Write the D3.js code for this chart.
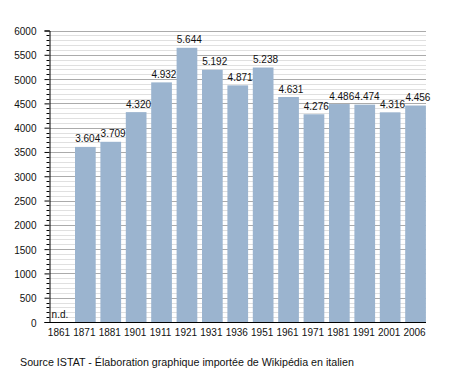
<!DOCTYPE html>
<html>
<head>
<meta charset="utf-8">
<script src="https://cdn.jsdelivr.net/npm/d3@7"></script>
<style>
html,body{margin:0;padding:0;background:#fff;}
svg{display:block;}
text{font-family:"Liberation Sans",Arial,sans-serif;fill:#111;}
</style>
</head>
<body>
<svg id="chart" width="455" height="373"></svg>
<script>
const years = ["1861","1871","1881","1901","1911","1921","1931","1936","1951","1961","1971","1981","1991","2001","2006"];
const population = [null,3604,3709,4320,4932,5644,5192,4871,5238,4631,4276,4486,4474,4316,4456];
const valueLabels = ["n.d.","3.604","3.709","4.320","4.932","5.644","5.192","4.871","5.238","4.631","4.276","4.486","4.474","4.316","4.456"];
const yTicks = [0,500,1000,1500,2000,2500,3000,3500,4000,4500,5000,5500,6000];
const sourceText = "Source ISTAT - Élaboration graphique importée de Wikipédia en italien";

(function () {
const svg = d3.select("#chart");
const pLeft = 50, pRight = 426, pTop = 30.5, pBottom = 322;

const x = d3.scaleBand().domain(years).range([49.6, 430.6]).paddingInner(0).paddingOuter(0);
const y = d3.scaleLinear().domain([0, 6000]).range([pBottom, pTop]);
const barW = x.bandwidth() * 0.815;

// minor gridlines
const minor = d3.range(100, 6001, 100).filter(v => v % 500 !== 0);
svg.append("g").selectAll("line").data(minor).join("line")
  .attr("x1", pLeft).attr("x2", pRight)
  .attr("y1", d => Math.round(y(d)) + 0.5).attr("y2", d => Math.round(y(d)) + 0.5)
  .attr("stroke", "#e0e0e0").attr("stroke-width", 1);
// major gridlines
svg.append("g").selectAll("line").data(yTicks.filter(d => d > 0)).join("line")
  .attr("x1", pLeft).attr("x2", pRight)
  .attr("y1", d => Math.round(y(d)) + 0.5).attr("y2", d => Math.round(y(d)) + 0.5)
  .attr("stroke", "#ababab").attr("stroke-width", 1);

// bars
const data = years.map((yr, i) => ({yr, v: population[i], lab: valueLabels[i]}));
svg.append("g").selectAll("rect").data(data.filter(d => d.v != null)).join("rect")
  .attr("x", d => x(d.yr)).attr("width", barW)
  .attr("y", d => y(d.v)).attr("height", d => y(0) - y(d.v))
  .attr("fill", "#9bb4cf");

// value labels
svg.append("g").selectAll("text").data(data).join("text")
  .attr("x", d => d.v == null ? x(d.yr) + 2 : x(d.yr) + x.bandwidth() / 2)
  .attr("y", d => d.v == null ? 318 : y(d.v) - 4.5)
  .attr("text-anchor", d => d.v == null ? "start" : "middle")
  .attr("font-size", 10)
  .text(d => d.lab);

// y axis
const yAxis = d3.axisLeft(y).tickValues(yTicks).tickSize(5).tickPadding(3).tickFormat(d3.format("d"));
const gy = svg.append("g").attr("transform", `translate(${pLeft - 0.5},0)`).call(yAxis);
gy.select(".domain").attr("stroke", "#000");
gy.selectAll(".tick line").attr("stroke", "#000");
gy.selectAll(".tick text").attr("font-size", 10).attr("font-family", "Liberation Sans, Arial, sans-serif").attr("fill", "#111").attr("dx", "-5").attr("dy", "0.4em");
// minor ticks
gy.append("g").selectAll("line").data(minor).join("line")
  .attr("x1", -3).attr("x2", 0)
  .attr("y1", d => Math.round(y(d)) + 0.5).attr("y2", d => Math.round(y(d)) + 0.5)
  .attr("stroke", "#000");

// x axis
const xAxis = d3.axisBottom(x).tickSize(0).tickPadding(6);
const gx = svg.append("g").attr("transform", `translate(0,${pBottom + 0.5})`).call(xAxis);
gx.select(".domain").remove();
gx.selectAll(".tick").attr("transform", d => `translate(${x(d) + barW / 2 - 1},0)`);
gx.selectAll(".tick text").attr("font-size", 10).attr("font-family", "Liberation Sans, Arial, sans-serif").attr("fill", "#111");
svg.append("line").attr("x1", pLeft - 5).attr("x2", pRight).attr("y1", pBottom + 0.5).attr("y2", pBottom + 0.5).attr("stroke", "#000");

// source
svg.append("text").attr("x", 20).attr("y", 366).attr("font-size", 10.7).text(sourceText);
})();
</script>
</body>
</html>
